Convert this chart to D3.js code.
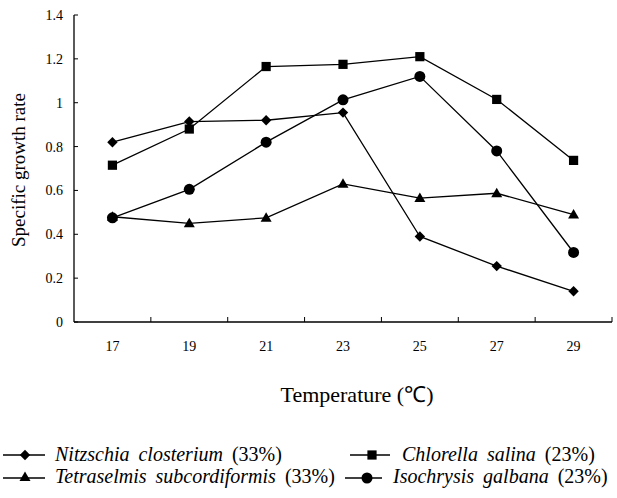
<!DOCTYPE html>
<html>
<head>
<meta charset="utf-8">
<script src="https://cdn.jsdelivr.net/npm/d3@7"></script>
<style>
  html, body { margin: 0; padding: 0; background: #fff; }
  svg { display: block; }
  text { font-family: "Liberation Serif", "Times New Roman", serif; fill: #000; }
</style>
</head>
<body>
<svg id="chart" width="617" height="498"></svg>
<script>
// ---- data ----
const temperatures = ["17", "19", "21", "23", "25", "27", "29"];
const yTicks = [0, 0.2, 0.4, 0.6, 0.8, 1, 1.2, 1.4];
const nitzschia   = [0.82, 0.914, 0.92, 0.955, 0.39, 0.255, 0.14];
const chlorella   = [0.715, 0.88, 1.165, 1.175, 1.21, 1.015, 0.737];
const tetraselmis = [0.48, 0.45, 0.475, 0.63, 0.565, 0.587, 0.49];
const isochrysis  = [0.475, 0.605, 0.82, 1.013, 1.12, 0.78, 0.317];
const seriesNames = ["Nitzschia closterium", "Chlorella salina", "Tetraselmis subcordiformis", "Isochrysis galbana"];
const seriesPct   = ["(33%)", "(23%)", "(33%)", "(23%)"];
const seriesData  = [nitzschia, chlorella, tetraselmis, isochrysis];
const seriesShape = ["diamond", "square", "triangle", "circle"];

// ---- layout ----
const svg = d3.select("#chart");
const plotLeft = 74, plotRight = 612, plotTop = 15, plotBottom = 322;

const x = d3.scalePoint().domain(temperatures).range([plotLeft, plotRight]).padding(0.5);
const step = x.step();
const y = d3.scaleLinear().domain([0, 1.4]).range([plotBottom, plotTop]);

const symbolSize = { square: 85, circle: 95 };
function symPath(shape) {
  if (shape === "diamond") return "M0,-5.2L5.2,0L0,5.2L-5.2,0Z";
  if (shape === "triangle") return "M0,-5.5L5.5,4L-5.5,4Z";
  if (shape === "square") return d3.symbol(d3.symbolSquare, symbolSize.square)();
  return d3.symbol(d3.symbolCircle, symbolSize.circle)();
}

// axes
svg.append("line").attr("x1", plotLeft).attr("x2", plotLeft).attr("y1", plotTop).attr("y2", plotBottom)
  .attr("stroke", "#000").attr("stroke-width", 1.3);
svg.append("line").attr("x1", plotLeft).attr("x2", plotRight).attr("y1", plotBottom).attr("y2", plotBottom)
  .attr("stroke", "#000").attr("stroke-width", 1.3);

// y ticks (inward) and labels
const yAxis = svg.append("g");
yAxis.selectAll("line").data(yTicks).join("line")
  .attr("x1", plotLeft).attr("x2", plotLeft + 4)
  .attr("y1", d => y(d)).attr("y2", d => y(d))
  .attr("stroke", "#000").attr("stroke-width", 1);
yAxis.selectAll("text").data(yTicks).join("text")
  .attr("x", plotLeft - 11).attr("y", d => y(d) + 5)
  .attr("text-anchor", "end").attr("font-size", 14)
  .text(d => d3.format("")(d));

// x ticks at category boundaries (inward)
const boundaries = temperatures.map(t => x(t) + step / 2);
svg.append("g").selectAll("line").data(boundaries).join("line")
  .attr("x1", d => d).attr("x2", d => d)
  .attr("y1", plotBottom).attr("y2", plotBottom - 5)
  .attr("stroke", "#000").attr("stroke-width", 1);

// x labels
svg.append("g").selectAll("text").data(temperatures).join("text")
  .attr("x", d => x(d)).attr("y", 351)
  .attr("text-anchor", "middle").attr("font-size", 14)
  .text(d => d);

// axis titles
svg.append("text")
  .attr("transform", "translate(25,170) rotate(-90)")
  .attr("text-anchor", "middle").attr("font-size", 19)
  .text("Specific growth rate");
svg.append("text")
  .attr("x", 357).attr("y", 402)
  .attr("text-anchor", "middle").attr("font-size", 22)
  .text("Temperature (℃)");

// series
const line = d3.line().x((d, i) => x(temperatures[i])).y(d => y(d));
seriesData.forEach((vals, si) => {
  const g = svg.append("g");
  g.append("path").datum(vals).attr("d", line)
    .attr("fill", "none").attr("stroke", "#000").attr("stroke-width", 1.3);
  g.selectAll("path.m").data(vals).join("path").attr("class", "m")
    .attr("transform", (d, i) => `translate(${x(temperatures[i])},${y(d)})`)
    .attr("d", symPath(seriesShape[si]))
    .attr("fill", "#000");
});

// legend
const legendPos = [
  { lx1: 3, lx2: 45, mx: 25, ly: 455, tx: 55, ty: 461 },
  { lx1: 350, lx2: 390, mx: 372, ly: 455, tx: 402, ty: 461 },
  { lx1: 3, lx2: 45, mx: 25, ly: 478, tx: 55, ty: 483 },
  { lx1: 345, lx2: 382, mx: 367, ly: 478, tx: 393, ty: 483 }
];
seriesNames.forEach((name, si) => {
  const p = legendPos[si];
  const g = svg.append("g");
  g.append("line").attr("x1", p.lx1).attr("x2", p.lx2).attr("y1", p.ly).attr("y2", p.ly)
    .attr("stroke", "#000").attr("stroke-width", 1.3);
  g.append("path").attr("d", symPath(seriesShape[si]))
    .attr("transform", `translate(${p.mx},${p.ly - (seriesShape[si] === "triangle" ? 1 : 0)})`)
    .attr("fill", "#000");
  const t = g.append("text").attr("x", p.tx).attr("y", p.ty).attr("font-size", 20)
    .attr("word-spacing", 4);
  t.append("tspan").attr("font-style", "italic").text(name);
  t.append("tspan").text(" " + seriesPct[si]);
});
</script>
</body>
</html>
